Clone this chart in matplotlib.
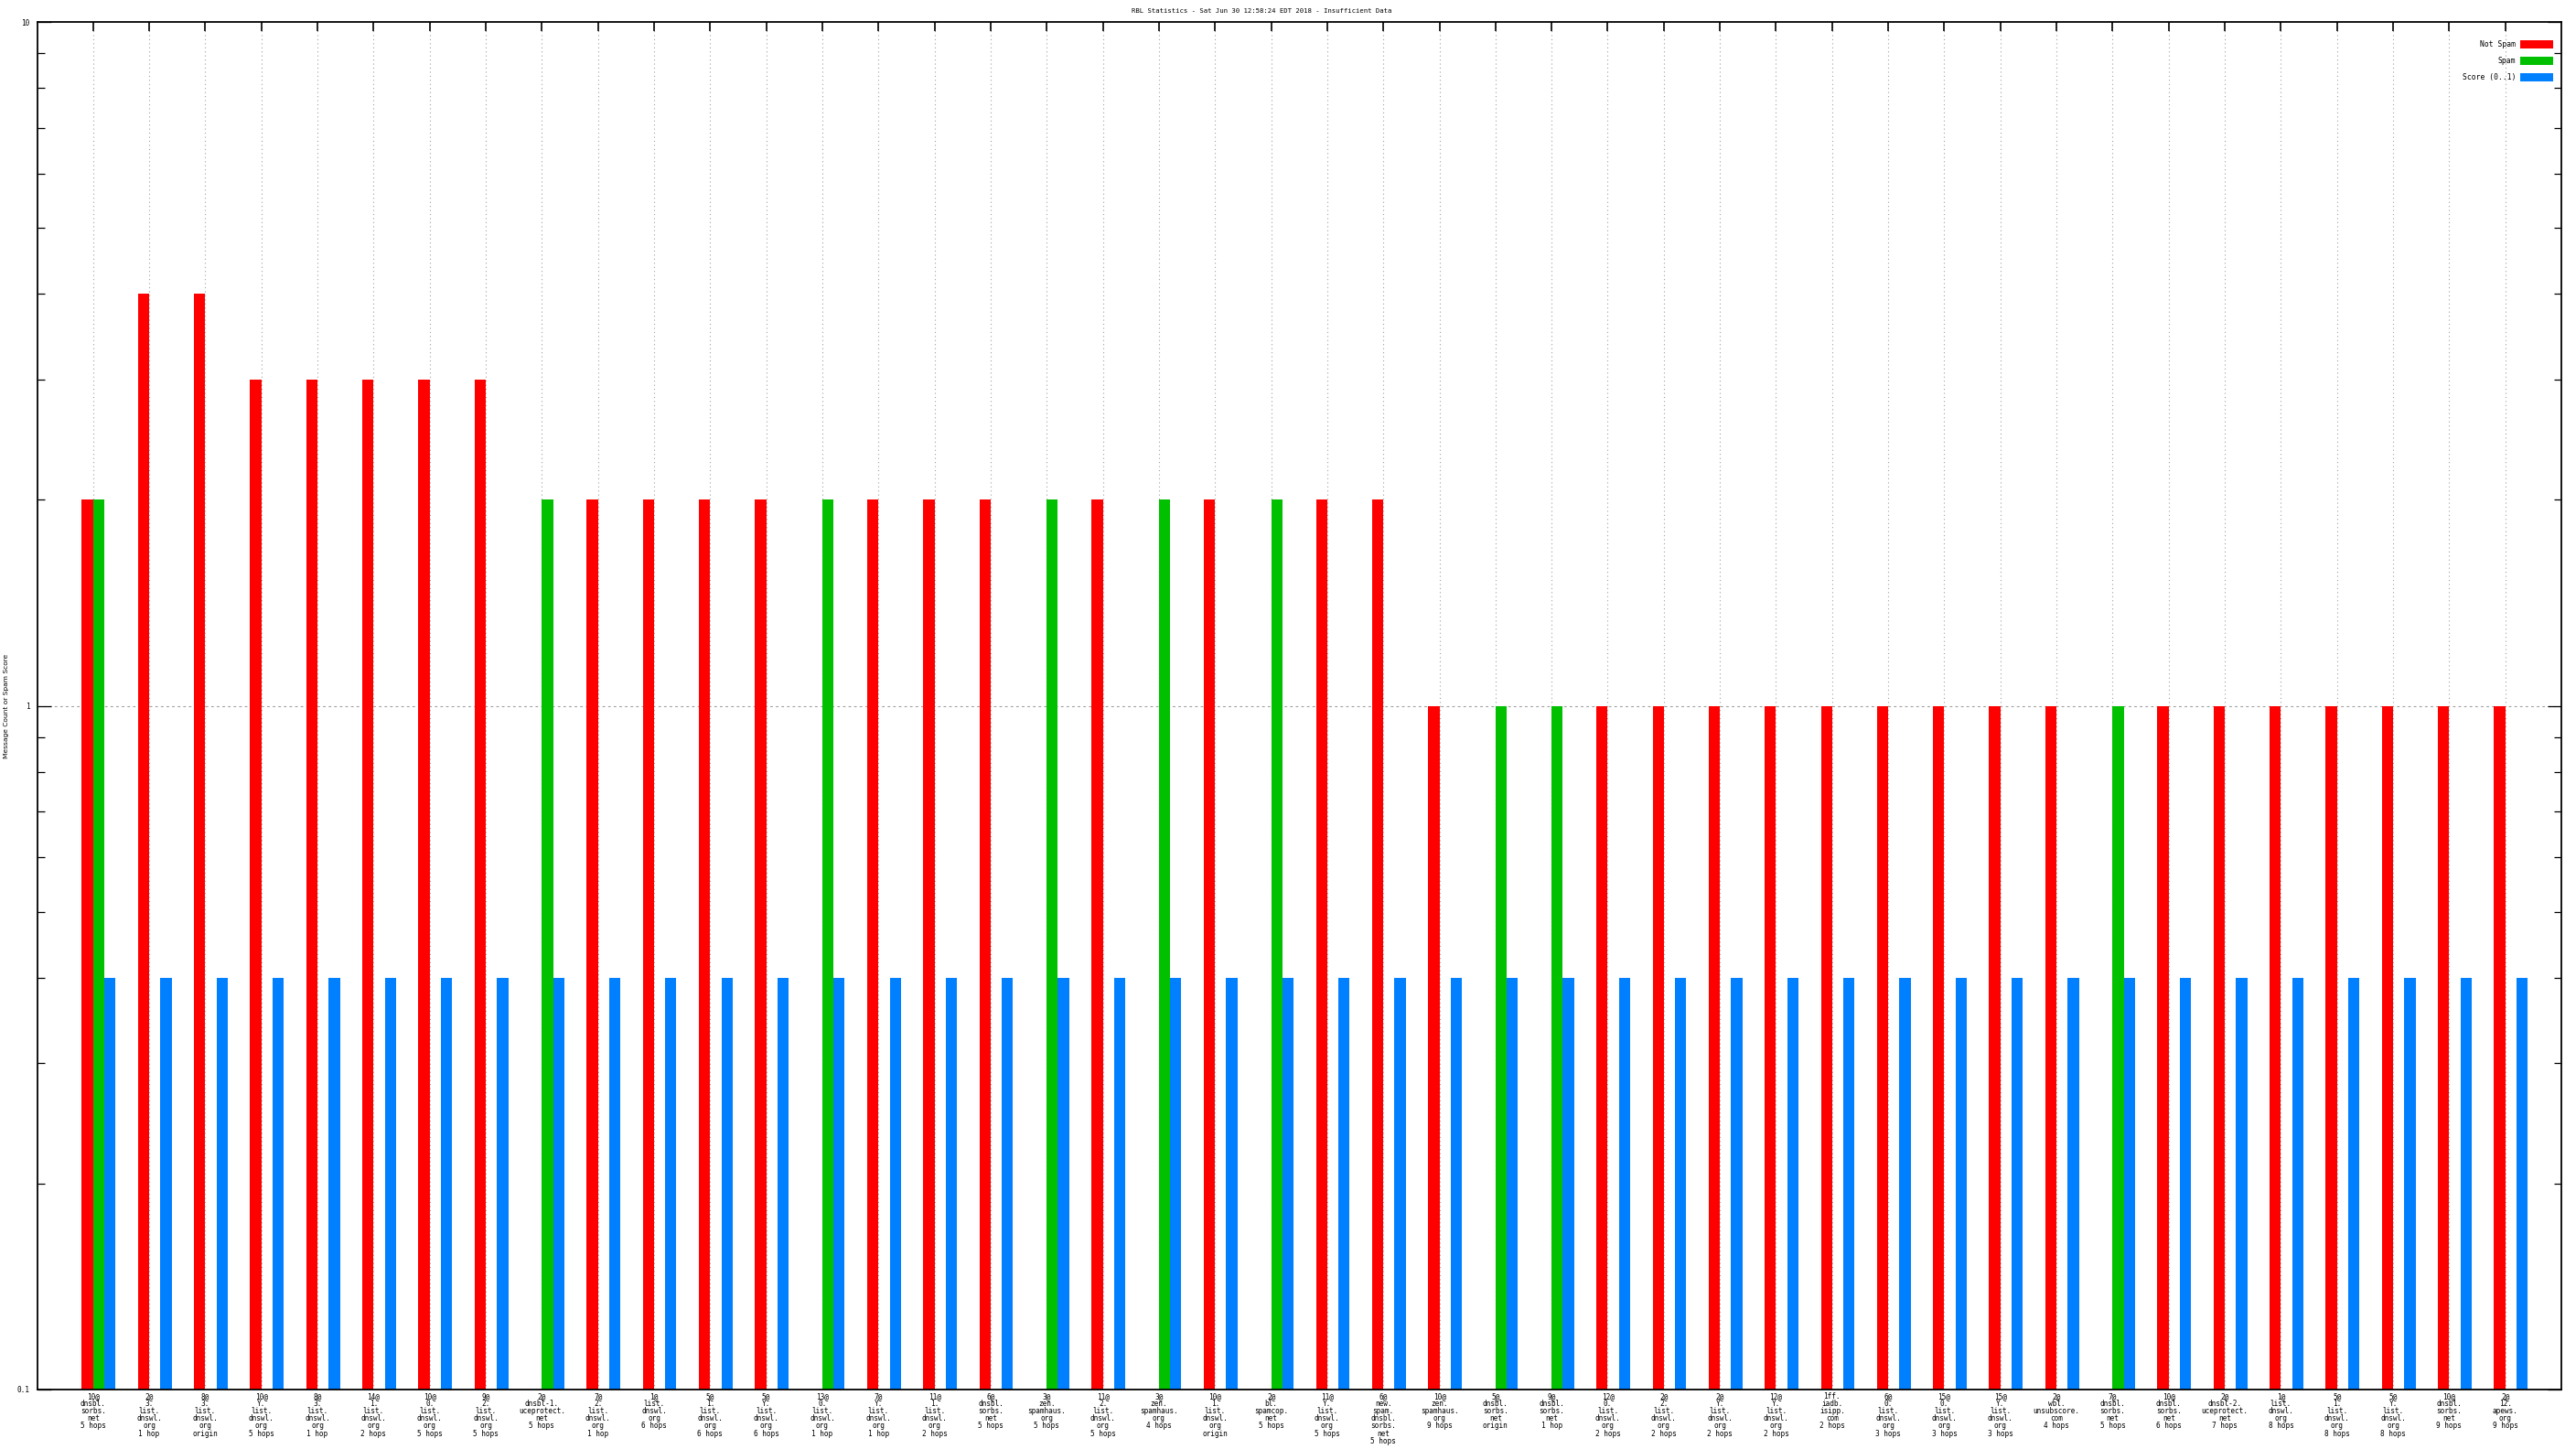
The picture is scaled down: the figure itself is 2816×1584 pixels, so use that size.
import numpy as np
import matplotlib
matplotlib.use("Agg")
import matplotlib.pyplot as plt
from matplotlib.patches import Rectangle
from matplotlib.ticker import FixedLocator, NullFormatter

labels = [
    "10@\ndnsbl.\nsorbs.\nnet\n5 hops",
    "2@\n3.\nlist.\ndnswl.\norg\n1 hop",
    "8@\n3.\nlist.\ndnswl.\norg\norigin",
    "10@\nY.\nlist.\ndnswl.\norg\n5 hops",
    "8@\n3.\nlist.\ndnswl.\norg\n1 hop",
    "14@\n1.\nlist.\ndnswl.\norg\n2 hops",
    "10@\n0.\nlist.\ndnswl.\norg\n5 hops",
    "9@\n2.\nlist.\ndnswl.\norg\n5 hops",
    "2@\ndnsbl-1.\nuceprotect.\nnet\n5 hops",
    "7@\n2.\nlist.\ndnswl.\norg\n1 hop",
    "1@\nlist.\ndnswl.\norg\n6 hops",
    "5@\n1.\nlist.\ndnswl.\norg\n6 hops",
    "5@\nY.\nlist.\ndnswl.\norg\n6 hops",
    "13@\n0.\nlist.\ndnswl.\norg\n1 hop",
    "7@\nY.\nlist.\ndnswl.\norg\n1 hop",
    "11@\n1.\nlist.\ndnswl.\norg\n2 hops",
    "6@\ndnsbl.\nsorbs.\nnet\n5 hops",
    "3@\nzen.\nspamhaus.\norg\n5 hops",
    "11@\n2.\nlist.\ndnswl.\norg\n5 hops",
    "3@\nzen.\nspamhaus.\norg\n4 hops",
    "10@\n1.\nlist.\ndnswl.\norg\norigin",
    "2@\nbl.\nspamcop.\nnet\n5 hops",
    "11@\nY.\nlist.\ndnswl.\norg\n5 hops",
    "6@\nnew.\nspam.\ndnsbl.\nsorbs.\nnet\n5 hops",
    "10@\nzen.\nspamhaus.\norg\n9 hops",
    "5@\ndnsbl.\nsorbs.\nnet\norigin",
    "9@\ndnsbl.\nsorbs.\nnet\n1 hop",
    "12@\n0.\nlist.\ndnswl.\norg\n2 hops",
    "2@\n2.\nlist.\ndnswl.\norg\n2 hops",
    "2@\nY.\nlist.\ndnswl.\norg\n2 hops",
    "12@\nY.\nlist.\ndnswl.\norg\n2 hops",
    "1ff.\niadb.\nisipp.\ncom\n2 hops",
    "6@\n0.\nlist.\ndnswl.\norg\n3 hops",
    "15@\n0.\nlist.\ndnswl.\norg\n3 hops",
    "15@\nY.\nlist.\ndnswl.\norg\n3 hops",
    "2@\nwbl.\nunsubscore.\ncom\n4 hops",
    "7@\ndnsbl.\nsorbs.\nnet\n5 hops",
    "10@\ndnsbl.\nsorbs.\nnet\n6 hops",
    "2@\ndnsbl-2.\nuceprotect.\nnet\n7 hops",
    "1@\nlist.\ndnswl.\norg\n8 hops",
    "5@\n1.\nlist.\ndnswl.\norg\n8 hops",
    "5@\nY.\nlist.\ndnswl.\norg\n8 hops",
    "10@\ndnsbl.\nsorbs.\nnet\n9 hops",
    "2@\n12.\napews.\norg\n9 hops",
]

not_spam = [2, 4, 4, 3, 3, 3, 3, 3, 0, 2, 2, 2, 2, 0, 2, 2, 2, 0, 2, 0, 2, 0,
            2, 2, 1, 0, 0, 1, 1, 1, 1, 1, 1, 1, 1, 1, 0, 1, 1, 1, 1, 1, 1, 1]
spam = [2, 0, 0, 0, 0, 0, 0, 0, 2, 0, 0, 0, 0, 2, 0, 0, 0, 2, 0, 2, 0, 2,
        0, 0, 0, 1, 1, 0, 0, 0, 0, 0, 0, 0, 0, 0, 1, 0, 0, 0, 0, 0, 0, 0]
score = [0.4] * 44

series_names = ["Not Spam", "Spam", "Score (0..1)"]
colors = ["#ff0000", "#00c000", "#0080ff"]
title = "RBL Statistics - Sat Jun 30 12:58:24 EDT 2018 - Insufficient Data"
ylabel = "Message Count or Spam Score"

W, H = 2816, 1584
fig = plt.figure(figsize=(W / 100, H / 100), dpi=100)
L, R, T, B = 41, 2800, 24, 1519
ax = fig.add_axes([L / W, 1 - B / H, (R - L) / W, (B - T) / H])
ax.set_yscale("log", nonpositive="clip")

x = np.arange(len(labels))
bw = 0.2
offsets = [-bw, 0.0, bw]
for vals, off, c in zip([not_spam, spam, score], offsets, colors):
    v = np.array(vals, dtype=float)
    m = v > 0
    ax.bar(x[m] + off, v[m], width=bw, align="edge", color=c, linewidth=0,
           zorder=3)
ax.set_ylim(0.1, 10)
ax.set_xlim(-0.99, 44.0)

# grids
for xi in x:
    ax.axvline(xi, color="#a0a0a0", linestyle=(0, (1, 3)), linewidth=0.8, zorder=1)
ax.axhline(1, color="#a0a0a0", linestyle=(0, (2.5, 3)), linewidth=0.8, zorder=1)

# ticks
ax.set_xticks(x)
ax.set_xticklabels(labels, family="DejaVu Sans Mono", fontsize=5.6,
                   linespacing=0.88, va="top")
ax.tick_params(axis="x", bottom=False, top=True, direction="in", length=7.2,
               width=1.2, pad=2)
ax.yaxis.set_major_locator(FixedLocator([0.1, 1, 10]))
ax.yaxis.set_minor_locator(FixedLocator([0.2, 0.3, 0.4, 0.5, 0.6, 0.7, 0.8, 0.9,
                                         2, 3, 4, 5, 6, 7, 8, 9]))
ax.yaxis.set_minor_formatter(NullFormatter())
ax.set_yticklabels(["0.1", "1", "10"], family="DejaVu Sans Mono", fontsize=5.6)
ax.tick_params(axis="y", which="major", direction="in", length=10.8, width=0.9,
               left=True, right=True, pad=6)
ax.tick_params(axis="y", which="minor", direction="in", length=5.8, width=0.9,
               left=True, right=True)
for s in ax.spines.values():
    s.set_linewidth(1.3)
    s.set_zorder(5)

fig.text(1379 / W, 1 - 12 / H, title, ha="center", va="center",
         family="DejaVu Sans Mono", fontsize=5.2)
fig.text(7 / W, 1 - 772 / H, ylabel, ha="center", va="center", rotation=90,
         family="DejaVu Sans", fontsize=5.4)

# legend
for i, (name, c) in enumerate(zip(series_names, colors)):
    yc = 48.3 + i * 18
    fig.text(2750 / W, 1 - yc / H, name, ha="right", va="center",
             family="DejaVu Sans Mono", fontsize=5.8)
    fig.patches.append(Rectangle((2755 / W, 1 - (yc + 4.4) / H), 36 / W, 8.8 / H,
                                 transform=fig.transFigure, color=c, linewidth=0))

fig.savefig("out.png", dpi=100)
